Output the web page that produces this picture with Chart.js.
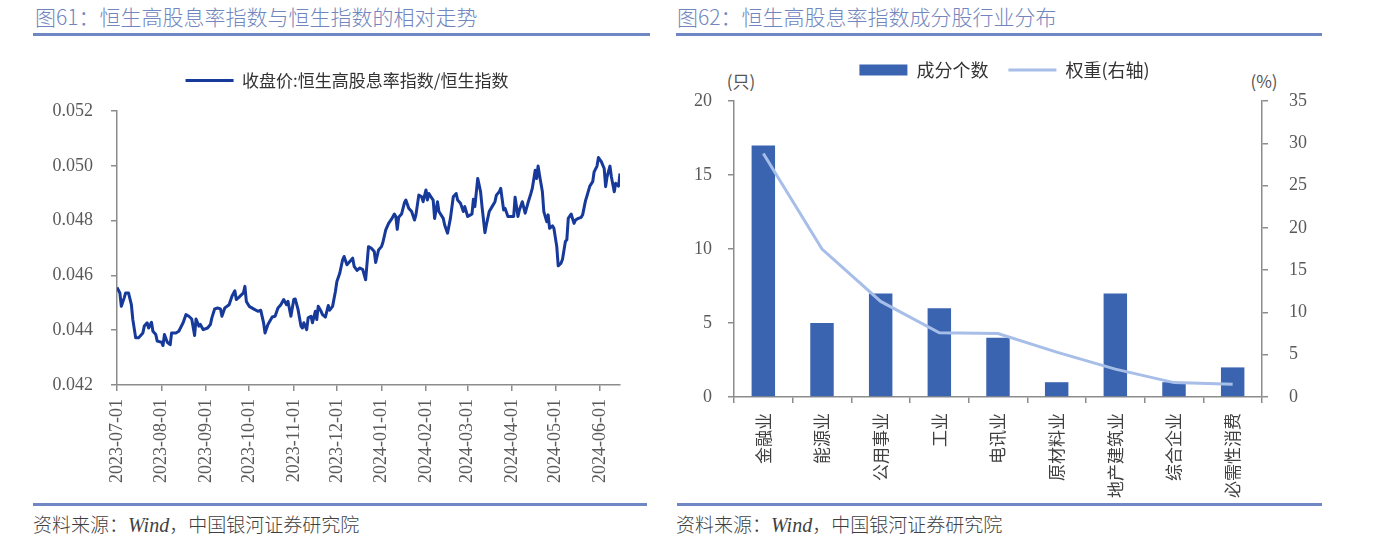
<!DOCTYPE html>
<html>
<head>
<meta charset="utf-8">
<script src="https://cdn.jsdelivr.net/npm/chart.js"></script>
<style>
  body { margin: 0; width: 1375px; height: 541px; background: #fff; position: relative; overflow: hidden; font-family: "Noto Sans CJK SC", sans-serif; }
  .title { position: absolute; top: 3px; font-size: 21px; font-weight: 300; line-height: 26px; color: #7186be; white-space: nowrap; }
  .rule { position: absolute; height: 3px; background: #6f87c2; }
  .src { position: absolute; top: 511px; font-size: 19px; font-weight: 300; line-height: 26px; color: #3f3f3f; white-space: nowrap; }
  .src i { font-family: "Liberation Serif", serif; font-size: 20px; }
  .unit { position: absolute; top: 70px; font-size: 17px; line-height: 22px; color: #555; transform: translateX(-50%); white-space: nowrap; }
  .box { position: absolute; top: 40px; height: 460px; }
</style>
</head>
<body>
<div class="title" style="left:35px">图61：恒生高股息率指数与恒生指数的相对走势</div>
<div class="title" style="left:677px">图62：恒生高股息率指数成分股行业分布</div>
<div class="rule" style="left:33px; width:617px; top:33px"></div>
<div class="rule" style="left:676px; width:646px; top:33px"></div>
<div class="rule" style="left:33px; width:614px; top:503px"></div>
<div class="rule" style="left:677px; width:645px; top:503px"></div>
<div class="src" style="left:33px">资料来源：<i>Wind</i>，中国银河证券研究院</div>
<div class="src" style="left:676px">资料来源：<i>Wind</i>，中国银河证券研究院</div>
<div class="unit" style="left:741px">(只)</div>
<div class="unit" style="left:1264px">(%)</div>

<div class="box" style="left:0; width:650px"><canvas id="lineChart"></canvas></div>
<div class="box" style="left:660px; width:715px"><canvas id="barChart"></canvas></div>

<script>
// ---- left chart data: days after 2023-07-01, ratio value ----
const startDate = '2023-07-01';
const days = [0, 2, 3, 5, 6, 8, 10, 11, 13, 15, 18, 19, 21, 22, 24, 25, 27, 28, 31, 32,
  33, 35, 37, 38, 41, 43, 46, 48, 50, 52, 54, 55, 57, 58, 60, 63, 65, 66, 68, 70,
  72, 73, 75, 76, 78, 80, 82, 83, 85, 86, 88, 89, 90, 92, 95, 98, 100, 102, 103, 105,
  107, 108, 110, 112, 114, 116, 118, 119, 121, 123, 124, 126, 128, 129, 130, 132, 133, 135, 136, 138,
  139, 140, 142, 143, 145, 147, 148, 150, 152, 153, 155, 157, 158, 160, 162, 164, 165, 167, 169, 171,
  173, 175, 177, 179, 180, 182, 184, 185, 187, 189, 191, 193, 194, 195, 196, 198, 200, 201, 203, 205,
  207, 208, 210, 212, 213, 215, 216, 217, 218, 220, 221, 223, 224, 227, 228, 230, 232, 234, 236, 237,
  239, 241, 242, 244, 246, 247, 248, 249, 251, 253, 254, 256, 257, 259, 261, 263, 264, 266, 267, 269,
  270, 272, 274, 276, 277, 279, 280, 282, 284, 286, 288, 289, 291, 292, 293, 294, 296, 297, 299, 300,
  301, 303, 304, 306, 307, 309, 310, 312, 313, 314, 316, 318, 319, 321, 323, 324, 326, 327, 329, 331,
  332, 334, 335, 337, 339, 340, 341, 343, 344, 346, 347, 349, 350];
const ratio = [0.04556, 0.04536, 0.04487, 0.04518, 0.04536, 0.04536, 0.04493, 0.04439, 0.04372, 0.04372, 0.04390, 0.04415, 0.04427, 0.04408, 0.04429, 0.04396, 0.04384, 0.04360, 0.04356, 0.04344,
  0.04384, 0.04356, 0.04347, 0.04390, 0.04390, 0.04396, 0.04427, 0.04457, 0.04451, 0.04441, 0.04381, 0.04441, 0.04415, 0.04421, 0.04402, 0.04408, 0.04421, 0.04445, 0.04478, 0.04481,
  0.04478, 0.04451, 0.04481, 0.04485, 0.04493, 0.04524, 0.04544, 0.04512, 0.04521, 0.04526, 0.04536, 0.04560, 0.04505, 0.04487, 0.04478, 0.04469, 0.04473, 0.04427, 0.04390, 0.04421,
  0.04439, 0.04448, 0.04451, 0.04481, 0.04493, 0.04512, 0.04493, 0.04505, 0.04451, 0.04512, 0.04514, 0.04475, 0.04415, 0.04408, 0.04427, 0.04402, 0.04445, 0.04451, 0.04427, 0.04469,
  0.04439, 0.04487, 0.04469, 0.04457, 0.04448, 0.04490, 0.04473, 0.04487, 0.04542, 0.04578, 0.04608, 0.04657, 0.04669, 0.04639, 0.04651, 0.04663, 0.04633, 0.04618, 0.04627, 0.04621,
  0.04584, 0.04705, 0.04699, 0.04687, 0.04647, 0.04693, 0.04705, 0.04720, 0.04766, 0.04790, 0.04805, 0.04824, 0.04815, 0.04768, 0.04812, 0.04824, 0.04865, 0.04875, 0.04845, 0.04833,
  0.04802, 0.04821, 0.04893, 0.04887, 0.04869, 0.04912, 0.04875, 0.04899, 0.04890, 0.04875, 0.04808, 0.04869, 0.04833, 0.04808, 0.04784, 0.04754, 0.04808, 0.04887, 0.04899, 0.04875,
  0.04863, 0.04833, 0.04851, 0.04815, 0.04821, 0.04824, 0.04878, 0.04851, 0.04954, 0.04905, 0.04851, 0.04756, 0.04784, 0.04833, 0.04851, 0.04869, 0.04893, 0.04905, 0.04918, 0.04839,
  0.04845, 0.04815, 0.04815, 0.04815, 0.04885, 0.04815, 0.04839, 0.04869, 0.04827, 0.04865, 0.04899, 0.04918, 0.04984, 0.04954, 0.04999, 0.04966, 0.04905, 0.04833, 0.04796, 0.04821,
  0.04772, 0.04781, 0.04772, 0.04705, 0.04635, 0.04645, 0.04659, 0.04724, 0.04730, 0.04808, 0.04824, 0.04790, 0.04802, 0.04808, 0.04812, 0.04821, 0.04873, 0.04890, 0.04926, 0.04942,
  0.04978, 0.04999, 0.05030, 0.05015, 0.04990, 0.04924, 0.04960, 0.04999, 0.04960, 0.04905, 0.04936, 0.04926, 0.04972];
const monthLabels = ['2023-07-01', '2023-08-01', '2023-09-01', '2023-10-01', '2023-11-01', '2023-12-01',
  '2024-01-01', '2024-02-01', '2024-03-01', '2024-04-01', '2024-05-01', '2024-06-01'];
const lastDay = 350;

// ---- right chart data ----
const sectors = ['金融业', '能源业', '公用事业', '工业', '电讯业', '原材料业', '地产建筑业', '综合企业', '必需性消费'];
const counts = [17, 5, 7, 6, 4, 1, 7, 1, 2];
const weights = [28.8, 17.5, 11.3, 7.6, 7.5, 5.3, 3.3, 1.7, 1.5];

const numFont = { family: '"Liberation Serif", serif', size: 18 };
const cjkFont = { family: '"Noto Sans CJK SC", sans-serif', size: 17 };
const axisGray = '#8c8c8c';
const tickGray = '#595959';

function dayOf(s) {
  const a = s.split('-').map(Number), b = startDate.split('-').map(Number);
  return Math.round((Date.UTC(a[0], a[1] - 1, a[2]) - Date.UTC(b[0], b[1] - 1, b[2])) / 86400000);
}
const monthDays = monthLabels.map(dayOf);

// fix legend height (so plot area starts where the original does) and nudge it sideways
function legendFix(h, dx) {
  return {
    id: 'legendFix',
    beforeUpdate(chart) {
      const lg = chart.legend;
      if (lg && !lg._fixed) {
        const fit = lg.fit;
        lg.fit = function () { fit.call(this); this.height = h; };
        lg._fixed = true;
      }
    },
    afterLayout(chart) {
      chart.legend.left += dx;
      chart.legend.right += dx;
    }
  };
}

function legendItems(chart) {
  return chart.data.datasets.map((ds, i) => ({
    text: ds.label,
    fillStyle: ds.type === 'bar' ? ds.backgroundColor : 'rgba(0,0,0,0)',
    strokeStyle: ds.borderColor,
    lineWidth: ds.type === 'bar' ? 0 : 3,
    pointStyle: ds.type === 'bar' ? 'rect' : 'line',
    fontColor: '#333',
    hidden: false,
    datasetIndex: i
  }));
}

new Chart(document.getElementById('lineChart'), {
  type: 'line',
  data: {
    datasets: [{
      type: 'line',
      label: '收盘价:恒生高股息率指数/恒生指数',
      data: days.map((d, i) => ({ x: d, y: ratio[i] })),
      borderColor: '#16399a',
      backgroundColor: '#16399a',
      borderWidth: 3,
      pointRadius: 0,
      tension: 0,
      borderJoinStyle: 'round'
    }]
  },
  options: {
    responsive: true,
    maintainAspectRatio: false,
    animation: false,
    layout: { padding: { top: 22, left: 0, right: 30, bottom: 0 } },
    plugins: {
      tooltip: { enabled: false },
      legend: {
        position: 'top',
        labels: {
          font: cjkFont, color: '#333', padding: 10,
          usePointStyle: true, pointStyleWidth: 48, boxHeight: 3,
          generateLabels: legendItems
        }
      }
    },
    scales: {
      x: {
        type: 'linear',
        min: 0,
        max: lastDay,
        afterBuildTicks: s => { s.ticks = monthDays.map(v => ({ value: v })); },
        afterFit: s => { s.height = 115; },
        ticks: {
          autoSkip: false, minRotation: 90, maxRotation: 90, padding: 8,
          font: numFont, color: tickGray,
          callback: v => monthLabels[monthDays.indexOf(v)]
        },
        grid: { drawOnChartArea: false, drawTicks: true, tickLength: 6, color: axisGray, lineWidth: 1.5 },
        border: { color: axisGray, width: 1.5 }
      },
      y: {
        min: 0.042,
        max: 0.052,
        afterFit: s => { s.width = 117; },
        ticks: { stepSize: 0.002, padding: 18, font: numFont, color: tickGray, callback: v => v.toFixed(3) },
        grid: { drawOnChartArea: false, drawTicks: true, tickLength: 6, color: axisGray, lineWidth: 1.5 },
        border: { color: axisGray, width: 1.5 }
      }
    }
  },
  plugins: [legendFix(49, 37)]
});

new Chart(document.getElementById('barChart'), {
  data: {
    labels: sectors,
    datasets: [{
      type: 'bar',
      label: '成分个数',
      data: counts,
      backgroundColor: '#3b64b0',
      borderColor: '#3b64b0',
      yAxisID: 'y',
      categoryPercentage: 1,
      barPercentage: 0.4,
      order: 1
    }, {
      type: 'line',
      label: '权重(右轴)',
      data: weights,
      borderColor: '#a7bee8',
      backgroundColor: '#a7bee8',
      borderWidth: 3,
      pointRadius: 0,
      tension: 0,
      yAxisID: 'y1',
      order: 0
    }]
  },
  options: {
    responsive: true,
    maintainAspectRatio: false,
    animation: false,
    layout: { padding: { top: 1, left: 0, right: 0, bottom: 0 } },
    plugins: {
      tooltip: { enabled: false },
      legend: {
        position: 'top',
        labels: {
          font: { family: cjkFont.family, size: 18 }, color: '#333', padding: 20,
          usePointStyle: true, pointStyleWidth: 48, boxHeight: 11,
          generateLabels: legendItems
        }
      }
    },
    scales: {
      x: {
        afterFit: s => { s.height = 103; },
        ticks: { autoSkip: false, minRotation: 90, maxRotation: 90, padding: 10, font: cjkFont, color: '#404040' },
        grid: { offset: true, drawOnChartArea: false, drawTicks: true, tickLength: 6, color: axisGray, lineWidth: 1.5 },
        border: { color: axisGray, width: 1.5 }
      },
      y: {
        position: 'left',
        min: 0,
        max: 20,
        afterFit: s => { s.width = 74; },
        ticks: { stepSize: 5, padding: 16, font: numFont, color: tickGray },
        grid: { drawOnChartArea: false, drawTicks: true, tickLength: 6, color: axisGray, lineWidth: 1.5 },
        border: { color: axisGray, width: 1.5 }
      },
      y1: {
        position: 'right',
        min: 0,
        max: 35,
        afterFit: s => { s.width = 113; },
        ticks: { stepSize: 5, padding: 21, font: numFont, color: tickGray },
        grid: { drawOnChartArea: false, drawTicks: true, tickLength: 6, color: axisGray, lineWidth: 1.5 },
        border: { color: axisGray, width: 1.5 }
      }
    }
  },
  plugins: [legendFix(60, -13)]
});
</script>
</body>
</html>
